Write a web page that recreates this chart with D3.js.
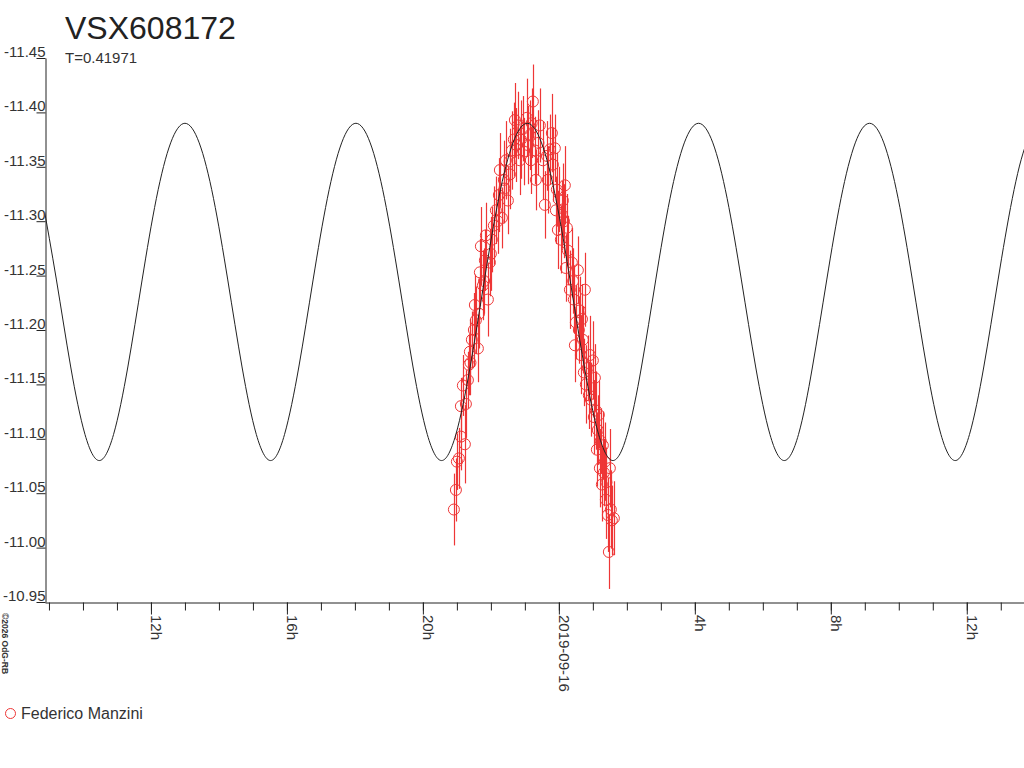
<!DOCTYPE html>
<html><head><meta charset="utf-8">
<script src="https://cdn.jsdelivr.net/npm/d3@7"></script>
<style>
html,body{margin:0;padding:0;background:#fff;}
svg{display:block;font-family:"Liberation Sans",Arial,Helvetica,sans-serif;}
</style></head>
<body>
<script>
// ---- data ----
const title = "VSX608172";
const subtitle = "T=0.41971";
const observer = "Federico Manzini";
const copyright = "\u00a92026 OdG-RB";
const refDate = "2019-09-16T00:00:00Z";
const xStart = "2019-09-15T08:53:00Z";
const xEnd = "2019-09-16T13:41:00Z";
const yTicks = [-11.45,-11.40,-11.35,-11.30,-11.25,-11.20,-11.15,-11.10,-11.05,-11.00,-10.95];

// fitted curve (hours from 2019-09-16 00:00 UT, magnitude)
const curveHours = [-15.20,-14.78,-14.36,-13.94,-13.52,-13.10,-12.68,-12.26,-11.84,-11.42,-11.00,-10.58,
  -10.16,-9.74,-9.32,-8.90,-8.48,-8.07,-7.65,-7.23,-6.81,-6.39,-5.97,-5.55,
  -5.13,-4.71,-4.29,-3.87,-3.45,-3.03,-2.61,-2.19,-1.77,-1.35,-0.93,-0.51,
  -0.09,0.33,0.75,1.17,1.59,2.01,2.43,2.85,3.27,3.69,4.11,4.53,
  4.95,5.37,5.79,6.21,6.63,7.05,7.46,7.88,8.30,8.72,9.14,9.56,
  9.98,10.40,10.82,11.24,11.66,12.08,12.50,12.92,13.34,13.76,14.18];
const curveMags = [-11.321,-11.246,-11.166,-11.104,-11.080,-11.104,-11.166,-11.246,-11.321,-11.372,-11.390,-11.372,
  -11.321,-11.246,-11.166,-11.104,-11.080,-11.104,-11.166,-11.246,-11.321,-11.372,-11.390,-11.372,
  -11.321,-11.246,-11.166,-11.104,-11.080,-11.104,-11.166,-11.246,-11.321,-11.372,-11.390,-11.372,
  -11.321,-11.246,-11.166,-11.104,-11.080,-11.104,-11.166,-11.246,-11.321,-11.372,-11.390,-11.372,
  -11.321,-11.246,-11.166,-11.104,-11.080,-11.104,-11.166,-11.246,-11.321,-11.372,-11.390,-11.372,
  -11.321,-11.246,-11.166,-11.104,-11.080,-11.104,-11.166,-11.246,-11.321,-11.372,-11.390];

// observations (hours from 2019-09-16 00:00 UT, magnitude, error)
const obsHours = [-3.088,-3.029,-3.000,-2.941,-2.882,-2.765,-2.882,-2.824,-2.735,-2.676,-2.618,-2.559,-2.500,-2.471,-2.382,
  -2.324,-2.294,-2.176,-2.088,-2.029,-1.971,-1.912,-1.853,-1.765,-1.676,-1.618,-1.500,-1.441,-1.382,-1.294,
  -1.206,-1.118,-1.029,-0.941,-0.853,-0.765,-0.706,-0.676,-2.147,-2.235,-2.647,-2.441,-1.735,-1.559,-1.147,
  -1.324,-0.824,-0.912,
  -0.559,-0.471,-0.412,-0.324,-0.206,-0.176,-0.118,-0.088,-0.029,0.059,0.118,0.176,0.206,0.235,0.324,
  0.382,0.441,0.500,0.559,0.588,0.647,0.706,0.765,0.735,0.794,0.882,0.941,1.000,1.059,1.088,1.118,
  1.176,1.206,1.265,1.324,1.353,1.382,1.441,1.500,1.529,1.559,1.618,1.471,-0.265,-0.059,0.088,0.265,
  0.471,0.618,0.912,1.147,1.294,
  -2.600,-2.350,-2.200,-2.000,-1.800,-1.600,-1.450,-1.250,-1.050,-0.800,
  -0.600,-0.350,0.000,0.150,0.420,0.680,0.850,1.030,1.230,1.400];
const obsMags = [-11.035,-11.053,-11.079,-11.082,-11.102,-11.095,-11.130,-11.149,-11.132,-11.154,-11.180,-11.191,-11.200,-11.223,-11.183,
  -11.253,-11.277,-11.264,-11.228,-11.262,-11.283,-11.296,-11.310,-11.324,-11.303,-11.338,-11.319,-11.343,-11.365,-11.393,
  -11.388,-11.375,-11.364,-11.395,-11.379,-11.410,-11.365,-11.338,-11.287,-11.241,-11.168,-11.209,-11.347,-11.356,-11.356,
  -11.375,-11.356,-11.370,
  -11.388,-11.356,-11.315,-11.338,-11.381,-11.352,-11.367,-11.310,-11.292,-11.283,-11.319,-11.333,-11.257,-11.294,-11.237,
  -11.262,-11.228,-11.207,-11.255,-11.200,-11.177,-11.191,-11.237,-11.161,-11.150,-11.140,-11.136,-11.172,-11.156,-11.126,-11.090,
  -11.122,-11.073,-11.058,-11.069,-11.079,-11.044,-11.030,-11.073,-11.035,-11.025,-11.027,-10.996,-11.366,-11.329,-11.306,-11.273,
  -11.186,-11.218,-11.177,-11.108,-11.094,
  -11.170,-11.215,-11.245,-11.270,-11.300,-11.330,-11.355,-11.370,-11.385,-11.390,
  -11.372,-11.360,-11.320,-11.300,-11.245,-11.210,-11.165,-11.120,-11.098,-11.060];
const obsErrs = [0.033,0.029,0.026,0.028,0.031,0.036,0.026,0.028,0.031,0.026,0.030,0.026,0.034,0.028,0.031,
  0.031,0.036,0.028,0.034,0.031,0.030,0.036,0.031,0.034,0.028,0.036,0.031,0.032,0.036,0.034,
  0.031,0.036,0.031,0.036,0.032,0.034,0.031,0.028,0.030,0.032,0.028,0.031,0.034,0.036,0.032,
  0.034,0.031,0.036,
  0.034,0.036,0.031,0.031,0.036,0.034,0.031,0.031,0.036,0.031,0.034,0.036,0.031,0.031,0.036,
  0.032,0.031,0.034,0.031,0.031,0.036,0.031,0.034,0.031,0.036,0.031,0.034,0.036,0.031,0.036,0.034,
  0.031,0.036,0.034,0.031,0.036,0.036,0.034,0.036,0.036,0.032,0.034,0.034,0.032,0.034,0.031,0.032,
  0.034,0.031,0.036,0.032,0.031,
  0.030,0.032,0.030,0.034,0.030,0.032,0.030,0.034,0.030,0.032,
  0.030,0.032,0.030,0.034,0.030,0.032,0.030,0.034,0.030,0.032];

// ---- drawing ----
const W = 1024, H = 768;
const red = "#ee3636", ink = "#222";
const svg = d3.select("body").append("svg").attr("width", W).attr("height", H);

const t0 = new Date(refDate).getTime();
const toDate = h => new Date(t0 + h * 3600e3);

const x = d3.scaleUtc().domain([new Date(xStart), new Date(xEnd)]).range([45, 1024]);
const y = d3.scaleLinear().domain([-10.95, -11.45]).range([602, 58]);

svg.append("defs").append("clipPath").attr("id", "plot")
  .append("rect").attr("x", 45).attr("y", 58).attr("width", 979).attr("height", 544);

// observations
const obs = obsHours.map((h, i) => ({t: toDate(h), m: obsMags[i], e: obsErrs[i]}));
const g = svg.append("g").attr("clip-path", "url(#plot)");
g.selectAll("line.err").data(obs).join("line").attr("class", "err")
  .attr("x1", d => Math.round(x(d.t)) + 0.5).attr("x2", d => Math.round(x(d.t)) + 0.5)
  .attr("y1", d => y(d.m - d.e)).attr("y2", d => y(d.m + d.e))
  .attr("stroke", red).attr("stroke-width", 1.2);
g.selectAll("circle.obs").data(obs).join("circle").attr("class", "obs")
  .attr("cx", d => x(d.t)).attr("cy", d => y(d.m)).attr("r", 5.5)
  .attr("fill", "none").attr("stroke", red).attr("stroke-width", 1);

// fitted curve
const curvePts = curveHours.map((h, i) => [toDate(h), curveMags[i]]);
svg.append("path")
  .attr("clip-path", "url(#plot)")
  .attr("d", d3.line().x(d => x(d[0])).y(d => y(d[1])).curve(d3.curveNatural)(curvePts))
  .attr("fill", "none").attr("stroke", ink).attr("stroke-width", 1);

// y axis
const yAxis = svg.append("g").attr("transform", "translate(45.5,0)")
  .call(d3.axisLeft(y).tickValues(yTicks).tickSize(9).tickSizeOuter(0).tickFormat(d => d.toFixed(2)));
yAxis.selectAll("path, line").attr("stroke", ink);
yAxis.selectAll("text").attr("x", 0).attr("dy", null).attr("y", -1.5)
  .attr("fill", "#333").attr("font-size", 15).attr("text-anchor", "end")
  .attr("font-family", "Liberation Sans, Arial, sans-serif");

// x axis - minor ticks (hourly)
const xMinor = svg.append("g").attr("transform", "translate(0,602.5)")
  .call(d3.axisBottom(x).ticks(d3.utcHour.every(1)).tickSize(8).tickSizeOuter(0).tickFormat(""));
xMinor.selectAll("path, line").attr("stroke", ink);

// x axis - major ticks (every 4 h) with labels
const xMajor = svg.append("g").attr("transform", "translate(0,602.5)")
  .call(d3.axisBottom(x).ticks(d3.utcHour.every(4)).tickSize(12).tickSizeOuter(0)
    .tickFormat(d => d.getUTCHours() === 0 ? d3.utcFormat("%Y-%m-%d")(d) : d.getUTCHours() + "h"));
xMajor.select("path").remove();
xMajor.selectAll("line").attr("stroke", ink);
xMajor.selectAll("text")
  .attr("transform", "translate(0,12.5) rotate(90)")
  .attr("x", 0).attr("y", 0).attr("dy", null)
  .attr("text-anchor", "start").attr("fill", "#333").attr("font-size", 15)
  .attr("font-family", "Liberation Sans, Arial, sans-serif");

// title
svg.append("text").attr("x", 65).attr("y", 39).attr("font-size", 32).attr("fill", ink).text(title);
svg.append("text").attr("x", 65).attr("y", 63).attr("font-size", 15).attr("fill", "#333").text(subtitle);

// legend
svg.append("circle").attr("cx", 10.5).attr("cy", 713.5).attr("r", 5).attr("fill", "none").attr("stroke", red);
svg.append("text").attr("x", 21).attr("y", 719).attr("font-size", 16).attr("fill", "#333").text(observer);

// copyright
svg.append("text").attr("transform", "translate(2,613) rotate(90)")
  .attr("font-size", 8.5).attr("font-weight", "bold").attr("fill", "#333").text(copyright);
</script>
</body></html>
